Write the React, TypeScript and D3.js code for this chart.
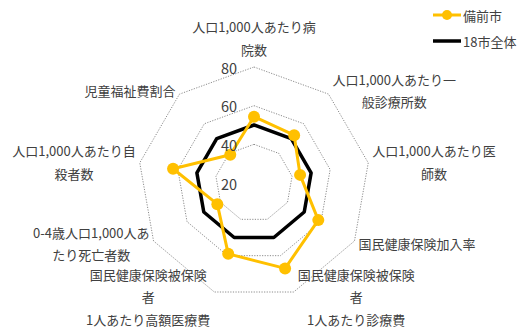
import React from "react";
import * as d3 from "d3";

const categories: string[][] = [
  ["人口1,000人あたり病", "院数"],
  ["人口1,000人あたり一", "般診療所数"],
  ["人口1,000人あたり医", "師数"],
  ["国民健康保険加入率"],
  ["国民健康保険被保険", "者", "1人あたり診療費"],
  ["国民健康保険被保険", "者", "1人あたり高額医療費"],
  ["0-4歳人口1,000人あ", "たり死亡者数"],
  ["人口1,000人あたり自", "殺者数"],
  ["児童福祉費割合"],
];
const bizenValues = [54.3, 52.3, 44.2, 58.4, 67, 59, 41.9, 62.5, 39.1];
const allValues = [50, 50, 50, 50, 50, 50, 50, 50, 50];
const ticks = [20, 40, 60, 80];
const seriesNames = ["備前市", "18市全体"];

const W = 527, H = 328;
const cx = 254, cy = 183, R = 116;
const ORANGE = "#FFC000";
const TEXT = "#404040";
const FONT = "'Noto Sans CJK JP', 'Noto Sans', sans-serif";
const FS = 13;

let ctx: CanvasRenderingContext2D | null = null;
function measure(s: string): number {
  if (!ctx && typeof document !== "undefined") {
    ctx = document.createElement("canvas").getContext("2d");
  }
  if (!ctx) return s.length * FS;
  ctx.font = `${FS}px ${FONT}`;
  return ctx.measureText(s).width;
}

export default function App() {
  const n = categories.length;
  const r = d3.scaleLinear().domain([20, 80]).range([0, R]);
  const ang = (i: number) => (i * 2 * Math.PI) / n;
  const pt = (i: number, v: number): [number, number] => [
    cx + r(v) * Math.sin(ang(i)),
    cy - r(v) * Math.cos(ang(i)),
  ];
  const radial = d3
    .lineRadial<number>()
    .angle((_, i) => ang(i))
    .radius((v) => r(v))
    .curve(d3.curveLinearClosed);

  const ringPath = (v: number) => radial(d3.range(n).map(() => v)) as string;
  const lineH = 22.5;

  return (
    <svg width={W} height={H} style={{ position: "absolute", left: 0, top: 0 }}>
      <rect width={W} height={H} fill="#fff" />
      <g transform={`translate(${cx},${cy})`}>
        {ticks.filter((t) => t > 20).map((t) => (
          <path key={t} d={ringPath(t)} fill="none" stroke="#7f7f7f" strokeWidth={0.9} strokeDasharray="1.2,1.4" />
        ))}
        <path d={radial(allValues) as string} fill="none" stroke="#000" strokeWidth={3.5} strokeLinejoin="round" />
        <path d={radial(bizenValues) as string} fill="none" stroke={ORANGE} strokeWidth={3} strokeLinejoin="round" />
      </g>
      {bizenValues.map((v, i) => {
        const [x, y] = pt(i, v);
        return <circle key={i} cx={x} cy={y} r={6} fill={ORANGE} />;
      })}
      {ticks.map((t) => (
        <text key={t} x={237} y={cy - r(t)} textAnchor="end" dominantBaseline="central" fontFamily={FONT} fontSize={14.5} fill={TEXT}>
          {t}
        </text>
      ))}
      {categories.map((lines, i) => {
        const [px, py] = pt(i, 80);
        const s = Math.sin(ang(i));
        const c = Math.cos(ang(i));
        const gap = 4;
        const boxW = Math.max(...lines.map(measure));
        let x = px;
        let y0: number;
        if (Math.abs(s) < 0.1) {
          y0 = py - 10 - (lines.length - 1) * lineH - 8;
        } else {
          x = s > 0 ? px + gap + boxW / 2 : px - gap - boxW / 2;
          y0 = py - ((lines.length - 1) * lineH) / 2 - c * 5;
        }
        return (
          <text key={i} textAnchor="middle" fontFamily={FONT} fontSize={FS} fill={TEXT}>
            {lines.map((l, j) => (
              <tspan key={j} x={x} y={y0 + j * lineH} dominantBaseline="central">{l}</tspan>
            ))}
          </text>
        );
      })}
      <g fontFamily={FONT} fontSize={FS} fill={TEXT}>
        <line x1={433} x2={461} y1={15} y2={15} stroke={ORANGE} strokeWidth={3} />
        <circle cx={447} cy={15} r={5} fill={ORANGE} />
        <text x={463} y={15} dominantBaseline="central">{seriesNames[0]}</text>
        <line x1={433} x2={461} y1={41} y2={41} stroke="#000" strokeWidth={3.5} />
        <text x={463} y={41} dominantBaseline="central">{seriesNames[1]}</text>
      </g>
    </svg>
  );
}
